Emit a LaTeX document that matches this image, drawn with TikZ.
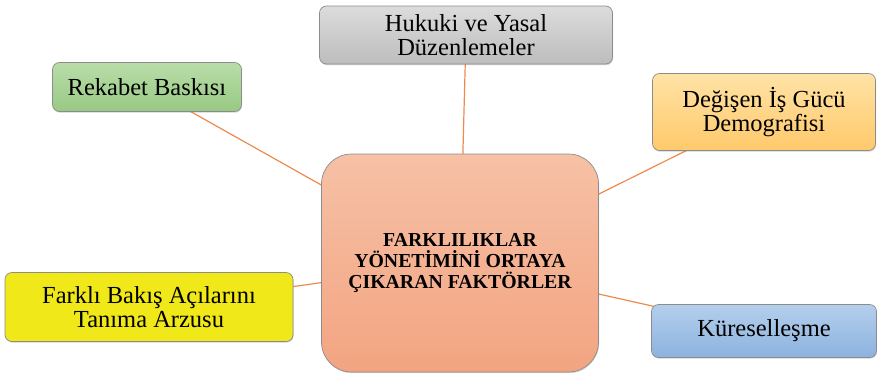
\documentclass[tikz,border=0pt]{standalone}
\usepackage{fontspec}
\setmainfont{Liberation Serif}
\usetikzlibrary{shadows}
\definecolor{linkorange}{HTML}{EE8A4E}
\definecolor{edgegray}{HTML}{8C8C8C}
\begin{document}
\begin{tikzpicture}[x=1pt,y=-1pt,
  factor/.style={rounded corners=7pt, draw=edgegray, line width=0.7pt,
    align=center, inner sep=0pt, font=\fontsize{24.5}{23.5}\selectfont,
    drop shadow={shadow xshift=0.6pt, shadow yshift=-1.2pt, opacity=0.35}},
  core/.style={rounded corners=30pt, draw=edgegray, line width=0.7pt,
    align=center, inner sep=0pt, font=\bfseries\fontsize{19.8}{20.7}\selectfont,
    top color=coreTop, bottom color=coreBot,
    drop shadow={shadow xshift=0.6pt, shadow yshift=-1.2pt, opacity=0.35}},
  link/.style={draw=linkorange, line width=1.2pt}]
\definecolor{coreTop}{HTML}{F6C1A6}
\definecolor{coreBot}{HTML}{F3A481}
\definecolor{grayTop}{HTML}{DCDCDC}
\definecolor{grayBot}{HTML}{BDBDBD}
\definecolor{greenTop}{HTML}{B9DDA9}
\definecolor{greenBot}{HTML}{98C983}
\definecolor{sandTop}{HTML}{FFE3A6}
\definecolor{sandBot}{HTML}{FFC96B}
\definecolor{yellowFill}{HTML}{F1E819}
\definecolor{blueTop}{HTML}{B4CFEC}
\definecolor{blueBot}{HTML}{8CB2DF}

\useasboundingbox (0,0) rectangle (877,375);

% connector anchors: box centres
\coordinate (cC) at (460,263);
\coordinate (cH) at (466,35);
\coordinate (cR) at (147,87);
\coordinate (cD) at (764,112);
\coordinate (cF) at (149,307);
\coordinate (cK) at (764,331);

% connectors, drawn beneath the boxes
\draw[link] (cC) -- (cH);
\draw[link] (cC) -- (cR);
\draw[link] (cC) -- (cD);
\draw[link] (cC) -- (cF);
\draw[link] (cC) -- (cK);

% central box
\node[core, minimum width=277pt, minimum height=218pt] (center) at (cC)
  {FARKLILIKLAR\\YÖNETİMİNİ ORTAYA\\ÇIKARAN FAKTÖRLER};

% surrounding factor boxes
\node[factor, top color=grayTop, bottom color=grayBot,
  minimum width=293pt, minimum height=58pt] (hukuki) at (cH)
  {Hukuki ve Yasal\\Düzenlemeler};
\node[factor, top color=greenTop, bottom color=greenBot,
  minimum width=189pt, minimum height=49pt] (rekabet) at (cR)
  {Rekabet Baskısı};
\node[factor, top color=sandTop, bottom color=sandBot,
  minimum width=223pt, minimum height=77pt] (degisen) at (cD)
  {Değişen İş Gücü\\Demografisi};
\node[factor, fill=yellowFill,
  minimum width=288pt, minimum height=69pt] (farkli) at (cF)
  {Farklı Bakış Açılarını\\Tanıma Arzusu};
\node[factor, top color=blueTop, bottom color=blueBot,
  minimum width=225pt, minimum height=53pt] (kuresel) at (cK)
  {Küreselleşme};
\end{tikzpicture}
\end{document}
